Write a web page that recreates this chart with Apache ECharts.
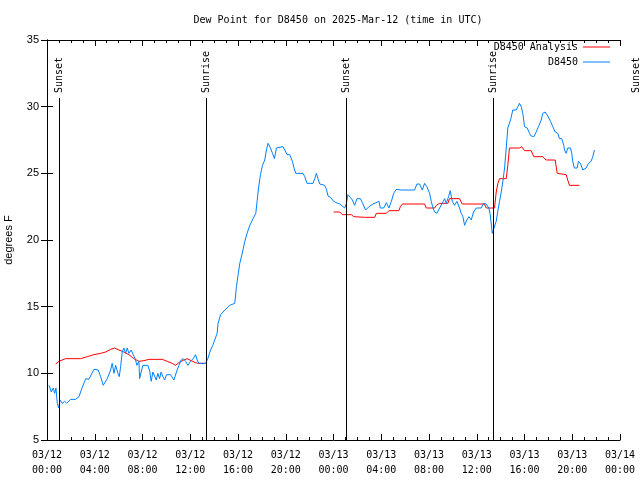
<!DOCTYPE html>
<html><head><meta charset="utf-8">
<script src="https://cdn.jsdelivr.net/npm/echarts@6/dist/echarts.min.js"></script>
<style>html,body{margin:0;padding:0;background:#fff}#c{width:640px;height:480px}</style>
</head><body><div id="c"></div>
<script>
const titleText = 'Dew Point for D8450 on 2025-Mar-12 (time in UTC)';
const yAxisName = 'degrees F';
const xTickLabels = ['03/12\n00:00','03/12\n04:00','03/12\n08:00','03/12\n12:00','03/12\n16:00','03/12\n20:00','03/13\n00:00','03/13\n04:00','03/13\n08:00','03/13\n12:00','03/13\n16:00','03/13\n20:00','03/14\n00:00'];
const seriesNames = ['D8450 Analysis', 'D8450'];

// hours since 03/12 00:00 UTC
const obsHours = [0.17,0.36,0.53,0.64,0.75,0.86,0.98,1.09,1.28,1.48,1.65,1.98,2.40,2.68,2.87,3.24,3.51,3.93,4.29,4.49,4.71,5.05,5.33,5.46,5.61,5.75,5.94,6.05,6.17,6.30,6.44,6.59,6.72,6.86,7.05,7.22,7.39,7.53,7.70,7.76,7.89,8.03,8.45,8.62,8.73,8.87,9.01,9.15,9.29,9.43,9.56,9.71,9.85,10.02,10.35,10.63,10.77,10.90,11.05,11.24,11.41,11.61,11.80,12.03,12.24,12.44,12.58,12.72,13.28,13.47,13.70,13.89,14.25,14.33,14.54,14.90,15.31,15.73,15.87,16.01,16.15,16.38,16.57,16.76,16.99,17.26,17.49,17.60,17.72,17.88,18.05,18.24,18.38,18.52,18.72,18.89,19.05,19.22,19.36,19.77,19.92,20.11,20.33,20.56,20.69,20.84,21.45,21.59,21.78,22.28,22.43,22.57,22.70,22.85,23.26,23.41,23.54,23.74,24.02,24.24,24.52,24.66,24.94,25.08,25.21,25.41,25.58,25.77,25.97,26.25,26.42,26.69,26.97,27.31,27.81,27.92,28.20,28.43,28.64,28.85,29.04,29.26,29.68,30.79,30.99,31.21,31.44,31.63,31.82,32.05,32.19,32.33,32.47,32.66,32.89,33.11,33.31,33.45,33.64,33.78,33.95,34.14,34.34,34.56,34.70,34.84,34.98,35.17,35.34,35.54,35.73,35.96,36.38,36.57,36.79,37.01,37.13,37.30,37.46,37.63,37.77,37.91,38.05,38.19,38.33,38.47,38.60,38.83,39.02,39.16,39.30,39.44,39.58,39.72,39.86,40.00,40.23,40.42,40.56,40.78,40.98,41.17,41.40,41.53,41.73,41.95,42.18,42.37,42.57,42.79,42.93,43.12,43.29,43.35,43.49,43.62,43.85,43.96,44.04,44.18,44.41,44.52,44.69,44.88,45.02,45.16,45.36,45.58,45.72,45.86];
const obsValues = [9.1,8.6,8.9,8.5,8.9,7.75,7.4,8.0,7.75,7.9,7.75,8.05,8.05,8.25,8.75,9.6,9.55,10.3,10.25,9.75,9.1,9.6,10.25,10.75,10.0,10.6,10.0,9.75,10.5,11.6,11.9,11.5,11.9,11.5,11.75,11.4,11.1,10.6,10.9,9.6,10.1,10.6,10.6,10.1,9.4,10.1,10.1,9.5,10.0,9.6,10.1,9.75,9.5,9.9,9.9,9.5,9.4,10.25,10.6,11.0,11.1,10.9,10.6,10.9,11.1,11.4,11.0,10.75,10.75,11.1,11.75,12.1,13.0,13.75,14.4,14.75,15.1,15.25,16.5,17.4,18.25,19.1,19.9,20.5,21.1,21.6,22.0,22.9,23.9,24.9,25.6,26.0,26.75,27.25,26.9,26.5,26.1,26.9,27.0,27.0,26.75,26.4,26.4,25.9,25.4,25.0,25.0,24.75,24.25,24.25,24.6,25.0,24.6,24.2,24.1,23.8,23.3,23.2,22.9,22.8,22.7,22.6,22.4,22.75,23.4,23.2,23.0,22.6,23.1,23.1,22.8,22.25,22.5,22.7,22.9,22.4,22.4,22.8,22.4,22.9,23.5,23.8,23.75,23.75,24.2,24.2,23.75,24.25,24.0,23.5,22.9,22.4,22.1,22.0,22.4,22.75,23.1,22.75,23.25,23.7,22.9,22.6,22.9,22.4,22.0,21.75,21.1,21.5,21.75,21.5,22.1,22.4,22.4,22.75,22.7,22.4,21.9,20.5,20.5,21.4,22.2,22.9,23.6,24.4,25.4,26.9,28.4,29.0,29.75,29.9,29.75,30.0,30.25,30.0,29.5,28.5,28.4,28.0,27.8,27.75,28.1,28.5,29.0,29.5,29.6,29.3,28.9,28.5,28.1,28.0,27.6,27.6,27.1,26.75,26.5,26.9,26.9,26.5,25.9,25.4,25.4,25.9,25.75,25.25,25.1,25.4,25.75,25.9,26.25,26.75];

// analysis; null marks a gap
const anaHours = [0.73,1.00,1.28,1.56,2.82,3.37,3.93,4.49,4.91,5.33,5.67,6.03,6.44,6.86,7.28,7.70,8.12,8.54,9.65,10.07,10.49,10.77,11.05,11.46,11.74,12.08,12.44,12.72,13.28,18.0,24.02,24.52,24.74,25.50,25.69,26.61,27.45,27.59,28.43,28.64,29.48,29.60,29.77,31.63,31.77,32.47,32.61,32.89,33.58,33.72,34.56,34.78,36.65,36.79,37.49,37.63,37.77,37.91,38.47,38.60,38.74,39.58,39.77,40.00,40.56,40.78,41.53,41.81,42.57,42.74,43.49,43.62,43.77,44.60];
const anaValues = [10.7,10.9,11.0,11.1,11.1,11.25,11.4,11.5,11.6,11.8,11.9,11.75,11.6,11.4,11.1,10.9,10.95,11.05,11.05,10.9,10.75,10.6,10.8,11.0,11.1,10.95,10.8,10.75,10.75,null,22.1,22.1,21.9,21.9,21.75,21.7,21.7,22.0,22.0,22.2,22.2,22.5,22.7,22.7,22.4,22.4,22.6,22.75,22.75,23.1,23.1,22.7,22.7,22.4,22.4,23.6,24.25,24.6,24.6,25.6,26.9,26.9,27.0,26.7,26.7,26.25,26.25,26.0,26.0,25.0,24.9,24.5,24.1,24.1];

const sunNames = ['Sunset','Sunrise','Sunset','Sunrise','Sunset'];
const sunHours = [1.00,13.34,25.04,37.38,49.35];
const sunLineTop = 30.65;

const MONO = '"DejaVu Sans Mono", "Liberation Mono", monospace';
const SANS = '"Liberation Sans", "DejaVu Sans", sans-serif';

const chart = echarts.init(document.getElementById('c'), null, {renderer: 'canvas'});

const obsData = obsHours.map((h, i) => [h, obsValues[i]]);
const anaData = anaHours.map((h, i) => [h, anaValues[i] === null ? '-' : anaValues[i]]);

function xAxisCfg(pos, showLabel) {
  return {
    type: 'value', min: 0, max: 48, interval: 4, position: pos,
    axisLine: {show: true, lineStyle: {color: '#000', width: 1}},
    axisTick: {show: true, inside: true, length: 6, lineStyle: {color: '#000'}},
    minorTick: {show: true, splitNumber: 4, length: 3, lineStyle: {color: '#000'}},
    splitLine: {show: false}, minorSplitLine: {show: false},
    axisLabel: {show: showLabel, formatter: v => xTickLabels[Math.round(v / 4)] || '',
      fontFamily: MONO, fontSize: 10, color: '#000', margin: 8, lineHeight: 15}
  };
}
function yAxisCfg(pos, showLabel) {
  const c = {
    type: 'value', min: 5, max: 35, interval: 5, position: pos,
    axisLine: {show: true, lineStyle: {color: '#000', width: 1}},
    axisTick: {show: true, inside: true, length: 6, lineStyle: {color: '#000'}},
    splitLine: {show: false},
    axisLabel: {show: showLabel, fontFamily: SANS, fontSize: 11, color: '#000', margin: 8}
  };
  if (showLabel) {
    c.name = yAxisName; c.nameLocation = 'middle'; c.nameRotate = 90; c.nameGap = 33;
    c.nameTextStyle = {fontFamily: SANS, fontSize: 11, color: '#000'};
  }
  return c;
}

const sunLines = sunHours.filter(h => h >= 0 && h <= 48).map(h => [{coord: [h, 5]}, {coord: [h, sunLineTop]}]);

const legendCommon = {right: 30, padding: 0, align: 'right', itemWidth: 27, itemHeight: 1, icon: 'rect',
  textStyle: {fontFamily: MONO, fontSize: 10, color: '#000', padding: [0, 0, 0, 0]}, selectedMode: false};

const option = {
  animation: false,
  backgroundColor: '#fff',
  title: {text: titleText, left: 333, top: 10, textAlign: 'center',
    textStyle: {fontFamily: MONO, fontSize: 10, fontWeight: 'normal', color: '#000'}},
  grid: {left: 47, right: 20, top: 40, bottom: 40, containLabel: false, outerBoundsMode: 'none'},
  legend: [
    Object.assign({data: [seriesNames[0]], top: 42}, legendCommon),
    Object.assign({data: [seriesNames[1]], top: 57}, legendCommon)
  ],
  xAxis: [xAxisCfg('bottom', true), xAxisCfg('top', false)],
  yAxis: [yAxisCfg('left', true), yAxisCfg('right', false)],
  series: [
    {name: 'sun', type: 'line', data: [], silent: true,
      markLine: {silent: true, symbol: ['none', 'none'], label: {show: false},
        lineStyle: {color: '#000', width: 1, type: 'solid'}, emphasis: {disabled: true}, data: sunLines}},
    {name: seriesNames[0], type: 'line', data: anaData, symbol: 'none', connectNulls: false,
      lineStyle: {color: '#ff0000', width: 1}, itemStyle: {color: '#ff0000'}},
    {name: seriesNames[1], type: 'line', data: obsData, symbol: 'none',
      lineStyle: {color: '#0080ff', width: 1}, itemStyle: {color: '#0080ff'}}
  ]
};
chart.setOption(option);

const sunText = sunHours.map((h, i) => {
  const p = chart.convertToPixel({xAxisIndex: 0, yAxisIndex: 0}, [h, sunLineTop]);
  return {type: 'text', x: p[0], y: p[1] - 5, rotation: Math.PI / 2, silent: true,
    style: {text: sunNames[i], font: '10px ' + MONO, fill: '#000', align: 'left', verticalAlign: 'middle'}};
});
chart.setOption({graphic: sunText});
</script>
</body></html>
